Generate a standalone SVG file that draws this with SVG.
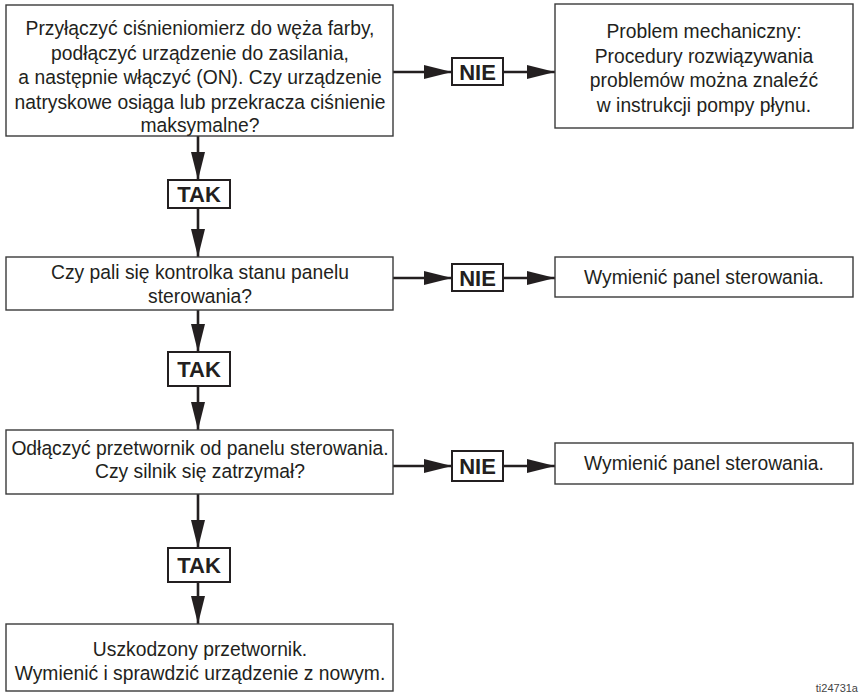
<svg xmlns="http://www.w3.org/2000/svg" width="866" height="695" viewBox="0 0 866 695">
<defs>
<style>
.box{fill:#fff;stroke:#3a3a3a;stroke-width:1.4}
.lbl{fill:#fff;stroke:#231f20;stroke-width:2}
.t{font-family:"Liberation Sans",Arial,sans-serif;font-size:19.3px;fill:#231f20;text-anchor:middle}
.b{font-family:"Liberation Sans",Arial,sans-serif;font-size:22px;font-weight:bold;fill:#231f20;text-anchor:middle}
.c{stroke:#231f20;stroke-width:2.6;fill:none;marker-end:url(#ah)}
.id{font-family:"Liberation Sans",Arial,sans-serif;font-size:11px;fill:#444;text-anchor:end}
</style>
<marker id="ah" markerUnits="userSpaceOnUse" markerWidth="28" markerHeight="14" refX="28" refY="7" orient="auto">
<path d="M0,0 L28,7 L0,14 z" fill="#231f20"/>
</marker>
</defs>
<rect width="866" height="695" fill="#fff"/>
<g id="connectors">
<line class="c" x1="198" y1="136" x2="198" y2="180"/>
<line class="c" x1="198" y1="208" x2="198" y2="257"/>
<line class="c" x1="198" y1="310" x2="198" y2="352"/>
<line class="c" x1="198" y1="386" x2="198" y2="430"/>
<line class="c" x1="198" y1="494" x2="198" y2="548"/>
<line class="c" x1="198" y1="582" x2="198" y2="624"/>
<line class="c" x1="393" y1="72" x2="452" y2="72"/>
<line class="c" x1="503" y1="72" x2="555" y2="72"/>
<line class="c" x1="393" y1="278" x2="452" y2="278"/>
<line class="c" x1="503" y1="278" x2="555" y2="278"/>
<line class="c" x1="393" y1="466" x2="452" y2="466"/>
<line class="c" x1="503" y1="466" x2="555" y2="466"/>
</g>
<g id="q1">
<rect class="box" x="6" y="5" width="387" height="131"/>
<text class="t" x="200" y="35">Przyłączyć ciśnieniomierz do węża farby,</text>
<text class="t" x="200" y="59.5">podłączyć urządzenie do zasilania,</text>
<text class="t" x="200" y="84">a następnie włączyć (ON). Czy urządzenie</text>
<text class="t" x="200" y="108.5">natryskowe osiąga lub przekracza ciśnienie</text>
<text class="t" x="200" y="132">maksymalne?</text>
</g>
<g id="nie1">
<rect class="lbl" x="452" y="58" width="51" height="27"/>
<text class="b" x="477.5" y="80">NIE</text>
</g>
<g id="r1">
<rect class="box" x="555" y="4" width="298" height="124"/>
<text class="t" x="704" y="38">Problem mechaniczny:</text>
<text class="t" x="704" y="62.5">Procedury rozwiązywania</text>
<text class="t" x="704" y="87">problemów można znaleźć</text>
<text class="t" x="704" y="111.5">w instrukcji pompy płynu.</text>
</g>
<g id="tak1">
<rect class="lbl" x="168" y="180" width="62" height="28"/>
<text class="b" x="199" y="202">TAK</text>
</g>
<g id="q2">
<rect class="box" x="6" y="257" width="387" height="53"/>
<text class="t" x="200" y="279">Czy pali się kontrolka stanu panelu</text>
<text class="t" x="200" y="303">sterowania?</text>
</g>
<g id="nie2">
<rect class="lbl" x="452" y="264" width="51" height="27"/>
<text class="b" x="477.5" y="286">NIE</text>
</g>
<g id="r2">
<rect class="box" x="555" y="257" width="298" height="40"/>
<text class="t" x="704" y="284">Wymienić panel sterowania.</text>
</g>
<g id="tak2">
<rect class="lbl" x="168" y="352" width="62" height="34"/>
<text class="b" x="199" y="377">TAK</text>
</g>
<g id="q3">
<rect class="box" x="6" y="430" width="387" height="64"/>
<text class="t" x="200" y="455">Odłączyć przetwornik od panelu sterowania.</text>
<text class="t" x="200" y="478">Czy silnik się zatrzymał?</text>
</g>
<g id="nie3">
<rect class="lbl" x="452" y="451" width="51" height="30"/>
<text class="b" x="477.5" y="474">NIE</text>
</g>
<g id="r3">
<rect class="box" x="555" y="443" width="298" height="41"/>
<text class="t" x="704" y="470">Wymienić panel sterowania.</text>
</g>
<g id="tak3">
<rect class="lbl" x="168" y="548" width="62" height="34"/>
<text class="b" x="199" y="573">TAK</text>
</g>
<g id="r4">
<rect class="box" x="6" y="624" width="387" height="67"/>
<text class="t" x="200" y="656">Uszkodzony przetwornik.</text>
<text class="t" x="200" y="680">Wymienić i sprawdzić urządzenie z nowym.</text>
</g>
<text class="id" x="858" y="692">ti24731a</text>
</svg>
